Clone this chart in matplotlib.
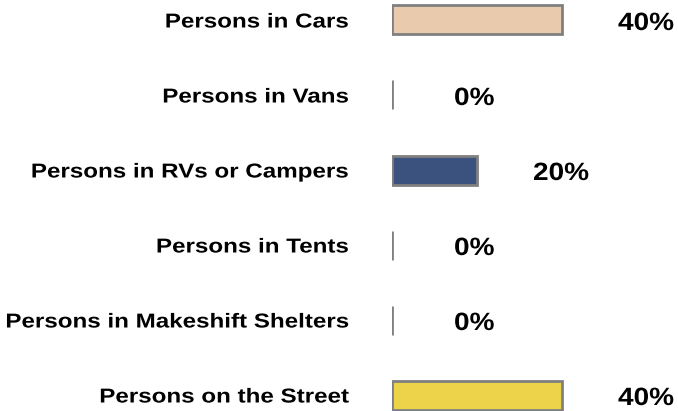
import matplotlib
matplotlib.use("Agg")
import matplotlib.pyplot as plt
from matplotlib.patheffects import AbstractPathEffect
from matplotlib.transforms import Affine2D

categories = [
    "Persons in Cars",
    "Persons in Vans",
    "Persons in RVs or Campers",
    "Persons in Tents",
    "Persons in Makeshift Shelters",
    "Persons on the Street",
]
shares = [0.40, 0.0, 0.20, 0.0, 0.0, 0.40]
colors = ["#EACAAD", "#EACAAD", "#3B527F", "#3B527F", "#3B527F", "#EDD34A"]


class Stretch(AbstractPathEffect):
    """Widen glyphs horizontally around a fixed pixel x."""

    def __init__(self, sx, x_px):
        super().__init__()
        self.sx, self.x_px = sx, x_px

    def draw_path(self, renderer, gc, tpath, affine, rgbFace=None):
        t = affine + Affine2D().translate(-self.x_px, 0).scale(self.sx, 1).translate(self.x_px, 0)
        renderer.draw_path(gc, tpath, t, rgbFace)


W, H = 678, 411
fig = plt.figure(figsize=(W / 100, H / 100), dpi=100)
plt.rcParams["font.family"] = ["Liberation Sans", "DejaVu Sans"]

x0_px = 392
px_per_unit = 170 / 0.4
ax = fig.add_axes([x0_px / W, 0, (W - x0_px) / W, 1])

row_px = 75
y = list(range(len(categories)))
ax.barh(y, shares, height=29 / row_px, color=colors, edgecolor="#808080", linewidth=2)

ax.set_xlim(0, (W - x0_px) / px_per_unit)
ax.set_ylim(5 + 16 / row_px, -20 / row_px)
ax.set_xticks([])
ax.set_yticks([])
for s in ax.spines.values():
    s.set_visible(False)

label_right = 349
for yi, name in zip(y, categories):
    yd = ax.transData.transform((0, yi))[1] - 2
    fig.text(label_right / W, yd / H, name, ha="right", va="center",
             fontsize=14.5, fontweight="bold",
             path_effects=[Stretch(1.2, label_right)])

# zero-length bars get their label pushed a bit further out, as in the source
for yi, v in zip(y, shares):
    xd, yd = ax.transData.transform((v, yi))
    left = xd + (62 if v == 0 else 56)
    fig.text(left / W, (yd - 3) / H, f"{v:.0%}", ha="left", va="center",
             fontsize=18, fontweight="bold",
             path_effects=[Stretch(1.12, left)])

fig.savefig("out.png", dpi=100)
